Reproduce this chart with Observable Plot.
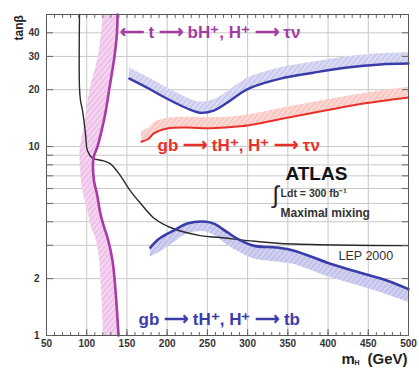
<!DOCTYPE html>
<html><head><meta charset="utf-8">
<script src="https://cdn.jsdelivr.net/npm/d3@7"></script>
<script src="https://cdn.jsdelivr.net/npm/@observablehq/plot@0.6"></script>
<style>body{margin:0;background:#fff;}</style>
</head><body><div id="chart"></div>
<script>
// ---- axis ticks ----
const xTickValues = [50, 100, 150, 200, 250, 300, 350, 400, 450, 500];
const xMinorTicks = d3.range(50, 501, 10);
const yTickLabels = [1, 2, 10, 20, 30, 40];
const yTickMarks = [1, 2, 3, 4, 5, 6, 7, 8, 9, 10, 20, 30, 40];
const yGridValues = [2, 3, 4, 5, 6, 7, 8, 9, 10, 20, 30, 40];
const xGridValues = [100, 150, 200, 250, 300, 350, 400, 450];

// ---- LEP 2000 exclusion (black) ----
const lepMass = [91, 91, 92.3, 94.8, 98.5, 101, 107, 121, 129.6, 142, 154, 167, 183, 204, 241, 266, 300, 341, 500];
const lepTanb = [50, 20.5, 17.5, 15.5, 11.7, 9.5, 8.7, 8.4, 8.1, 7.0, 5.85, 5.0, 4.2, 3.73, 3.38, 3.30, 3.18, 3.07, 2.99];

// ---- t -> bH+, H+ -> tau nu (magenta) ----
const topTanb     = [50, 40, 30, 20.5, 15.1, 12.1, 10, 8.7, 6.6, 5.6, 4.4, 3.7, 3.3, 2.5, 1.73, 1];
const topMass     = [138.3, 137.6, 134.5, 128.3, 123.3, 118.4, 113.4, 108.4, 109, 112.8, 117.1, 122, 125.8, 132, 135.8, 139.5];
const topBandMass = [120.9, 118.4, 114.6, 104.7, 99.7, 96, 92.3, 91.6, 93.5, 96, 102.2, 105.9, 110.9, 115.9, 118.4, 120.9];

// ---- gb -> tH+, H+ -> tau nu, upper (blue) ----
const tauBlueMass  = [153, 177, 200, 225, 241, 258, 275, 291, 304, 341, 382, 424, 465, 500];
const tauBlueTanb  = [22.9, 20.3, 17.9, 15.9, 15.1, 15.5, 17.1, 19.1, 20.5, 22.9, 24.6, 26.2, 27.2, 27.5];
const tauBlueUpper = [26.1, 23.1, 20.4, 18.1, 17.2, 17.7, 19.5, 21.8, 23.4, 26.1, 28.0, 29.9, 31.0, 31.4];

// ---- gb -> tH+, H+ -> tau nu (red) ----
const tauRedMass  = [168, 177, 183, 200, 225, 254, 291, 316, 341, 403, 444, 500];
const tauRedTanb  = [10.6, 11.0, 11.7, 12.45, 12.6, 12.5, 12.8, 13.3, 14.0, 15.7, 16.9, 18.2];
const tauRedUpper = [12.0, 12.5, 13.3, 14.1, 14.3, 14.2, 14.5, 15.1, 15.9, 17.8, 19.1, 20.6];

// ---- gb -> tH+, H+ -> tb (blue, lower) ----
const tbMass  = [179, 190, 208, 225, 245, 258, 275, 287, 307, 337, 357, 399, 440, 474, 500];
const tbTanb  = [2.92, 3.25, 3.59, 3.91, 4.01, 3.91, 3.51, 3.26, 2.99, 2.92, 2.82, 2.43, 2.15, 1.95, 1.76];
const tbLower = [2.6, 2.75, 3.1, 3.45, 3.55, 3.4, 3.0, 2.8, 2.55, 2.45, 2.38, 2.05, 1.82, 1.64, 1.5];

// ---- text ----
const labelTop = "\u27F5 t \u27F6 bH\u207A, H\u207A \u27F6 \u03C4\u03BD";
const labelTauNu = "gb \u27F6 tH\u207A, H\u207A \u27F6 \u03C4\u03BD";
const labelTb = "gb \u27F6 tH\u207A, H\u207A \u27F6 tb";
const labelAtlas = "ATLAS";
const labelLumi = "Ldt = 300 fb\u207B\u00B9";
const labelMixing = "Maximal mixing";
const labelLep = "LEP 2000";
const labelY = "tan\u03B2";

const zip = (xs, ys, extra) => xs.map((x, i) => ({x, y: ys[i], z: extra ? extra[i] : undefined}));
const lep = zip(lepMass, lepTanb);
const topLine = topTanb.map((t, i) => ({t, m: topMass[i], mb: topBandMass[i]}));
const tauBlue = zip(tauBlueMass, tauBlueTanb, tauBlueUpper);
const tauRed = zip(tauRedMass, tauRedTanb, tauRedUpper);
const tb = zip(tbMass, tbTanb, tbLower);

const font = "Liberation Sans, Arial, Helvetica, sans-serif";
const bigFs = 17;

const svg = Plot.plot({
  width: 419, height: 368,
  marginLeft: 46, marginRight: 11, marginTop: 14, marginBottom: 33,
  style: {fontFamily: font, fontSize: "10px", background: "white", color: "#222"},
  x: {domain: [50, 500], label: null},
  y: {type: "log", domain: [1, 50], label: null},
  marks: [
    Plot.ruleX(xGridValues, {stroke: "#c8c8c8", strokeWidth: 1}),
    Plot.ruleY(yGridValues, {stroke: "#c8c8c8", strokeWidth: 1}),
    // bands
    Plot.areaX(topLine, {y: "t", x1: "mb", x2: "m", fill: "url(#magHatch)", curve: "catmull-rom"}),
    Plot.areaY(tauBlue, {x: "x", y1: "y", y2: "z", fill: "url(#blueHatch)", curve: "catmull-rom"}),
    Plot.areaY(tauRed, {x: "x", y1: "y", y2: "z", fill: "url(#redHatch)", curve: "catmull-rom"}),
    Plot.areaY(tb, {x: "x", y1: "z", y2: "y", fill: "url(#blueHatch2)", curve: "catmull-rom"}),
    // lines
    Plot.line(lep, {x: "x", y: "y", stroke: "#2a2a2a", strokeWidth: 1.4, curve: "catmull-rom"}),
    Plot.line(topLine, {x: "m", y: "t", stroke: "#a93aa6", strokeWidth: 2.6, curve: "catmull-rom"}),
    Plot.line(tauBlue, {x: "x", y: "y", stroke: "#3a3caa", strokeWidth: 2.4, curve: "catmull-rom"}),
    Plot.line(tauRed, {x: "x", y: "y", stroke: "#e8302a", strokeWidth: 2, curve: "catmull-rom"}),
    Plot.line(tb, {x: "x", y: "y", stroke: "#3a3caa", strokeWidth: 2.6, curve: "catmull-rom"}),
    // frame & axes
    Plot.frame({stroke: "#555", strokeWidth: 1}),
    Plot.axisX({ticks: xTickValues, tickSize: 0, tickPadding: 4, fontWeight: "bold", fontSize: 10, fill: "#333"}),
    Plot.axisX({anchor: "bottom", ticks: xMinorTicks, tickSize: -3, tickFormat: () => "", stroke: "#666"}),
    Plot.axisX({anchor: "bottom", ticks: xTickValues, tickSize: -6, tickFormat: () => "", stroke: "#666"}),
    Plot.axisX({anchor: "top", ticks: xMinorTicks, tickSize: -3, tickFormat: () => "", stroke: "#666"}),
    Plot.axisY({ticks: yTickLabels, tickSize: 0, tickPadding: 7, tickFormat: d => String(d), fontWeight: "bold", fontSize: 10, fill: "#333"}),
    Plot.axisY({anchor: "left", ticks: yTickMarks, tickSize: -7, tickFormat: () => "", stroke: "#666"}),
    Plot.axisY({anchor: "right", ticks: yTickMarks, tickSize: -7, tickFormat: () => "", stroke: "#666"}),
    // axis titles
    Plot.text([labelY], {frameAnchor: "top-left", dx: -27, dy: 26, rotate: -90, textAnchor: "start", lineAnchor: "middle", fontWeight: "bold", fontSize: 12, fill: "#222"}),
    Plot.text(["m"], {frameAnchor: "bottom-right", dx: -67, dy: 24, textAnchor: "start", lineAnchor: "middle", fontWeight: "bold", fontSize: 15, fill: "#222"}),
    Plot.text(["H"], {frameAnchor: "bottom-right", dx: -54, dy: 27, textAnchor: "start", lineAnchor: "middle", fontWeight: "bold", fontSize: 7, fill: "#222"}),
    Plot.text(["(GeV)"], {frameAnchor: "bottom-right", dx: -1, dy: 24, textAnchor: "end", lineAnchor: "middle", fontWeight: "bold", fontSize: 15, fill: "#222"}),
    // annotations
    Plot.text([labelTop], {x: 141, y: 40, textAnchor: "start", fontWeight: "bold", fontSize: bigFs, fill: "#a23ca2"}),
    Plot.text([labelTauNu], {x: 188, y: 10.1, textAnchor: "start", fontWeight: "bold", fontSize: bigFs, fill: "#e8302a"}),
    Plot.text([labelTb], {x: 164.5, y: 1.215, textAnchor: "start", fontWeight: "bold", fontSize: bigFs, fill: "#3a3caa"}),
    Plot.text([labelAtlas], {x: 347, y: 7.2, textAnchor: "start", fontWeight: "bold", fontSize: 19, fill: "#111"}),
    Plot.text(["\u222B"], {x: 331, y: 5.5, textAnchor: "start", fontSize: 24, fill: "#222"}),
    Plot.text([labelLumi], {x: 341, y: 5.63, textAnchor: "start", fontWeight: "bold", fontSize: 10.5, fill: "#333"}),
    Plot.text([labelMixing], {x: 341, y: 4.42, textAnchor: "start", fontWeight: "bold", fontSize: 12, fill: "#333"}),
    Plot.text([labelLep], {x: 413, y: 2.62, textAnchor: "start", fontSize: 12.5, fill: "#333"})
  ]
});

// hatch patterns
const defs = d3.select(svg).insert("defs", ":first-child");
function hatch(id, bg, fg, sw) {
  const p = defs.append("pattern").attr("id", id).attr("patternUnits", "userSpaceOnUse")
    .attr("width", 4).attr("height", 4).attr("patternTransform", "rotate(40)");
  p.append("rect").attr("width", 4).attr("height", 4).attr("fill", bg);
  p.append("line").attr("x1", 1).attr("y1", 0).attr("x2", 1).attr("y2", 4).attr("stroke", fg).attr("stroke-width", sw);
}
hatch("magHatch", "#eebfe8", "#f9e4f6", 1.3);
hatch("blueHatch", "#cacaee", "#e6e6f8", 1.3);
hatch("redHatch", "#f9c6c1", "#fde5e2", 1.3);
hatch("blueHatch2", "#c0c0ea", "#dedef6", 1.3);

document.getElementById("chart").appendChild(svg);
</script>
</body></html>
